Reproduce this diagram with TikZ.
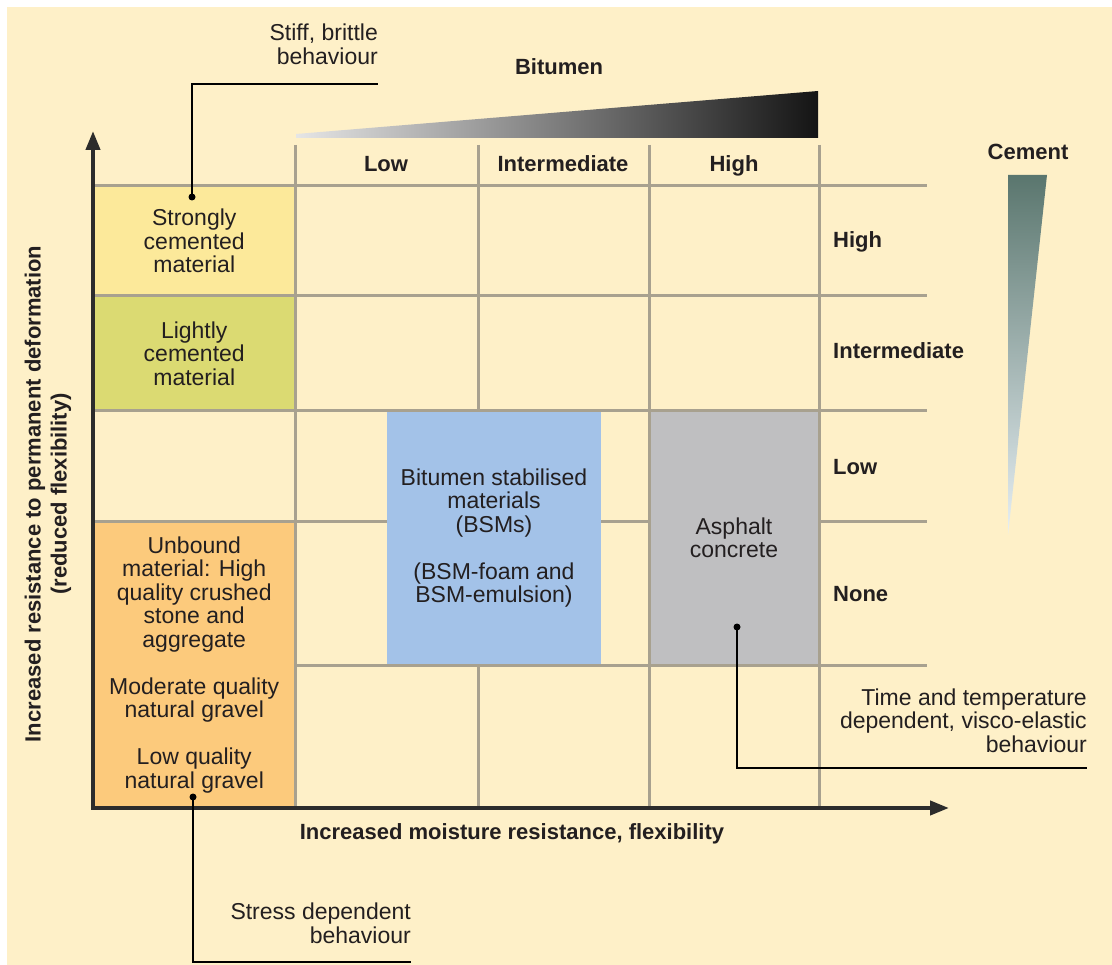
\documentclass[tikz,border=0pt]{standalone}
\usepackage{fontspec}
\setmainfont{Liberation Sans}
\usetikzlibrary{arrows.meta}

\definecolor{bgbeige}{HTML}{FEF0C8}
\definecolor{gridtaupe}{HTML}{A8A18F}
\definecolor{strongyellow}{HTML}{FCE99A}
\definecolor{lightgreen}{HTML}{DBDA72}
\definecolor{unboundorange}{HTML}{FCCA7C}
\definecolor{bsmblue}{HTML}{A3C2E8}
\definecolor{asphaltgrey}{HTML}{BFBFC1}
\definecolor{axisdark}{HTML}{2C2C2C}
\definecolor{inkdark}{HTML}{231F20}
\definecolor{cementtop}{HTML}{5A766E}
\definecolor{cementmid}{HTML}{9CAEAF}
\definecolor{cementend}{HTML}{E8F0F4}

\begin{document}
\begin{tikzpicture}[x=1pt, y=-1pt, line join=miter,
  every node/.style={text=inkdark, inner sep=0pt},
  body/.style={font=\fontsize{23}{23.5}\selectfont, align=center},
  head/.style={font=\fontsize{22}{26}\selectfont\bfseries, text height=15.75pt, text depth=0pt},
  ylabel/.style={font=\fontsize{22}{26}\selectfont\bfseries, align=center, rotate=90},
  region/.style={body, draw=none},
  gridline/.style={draw=gridtaupe, line width=3pt},
  axisline/.style={draw=axisdark, line width=4pt, {Triangle[length=19pt,width=14pt]}-{Triangle[length=19pt,width=14pt]}},
  callout/.style={draw=black, line width=1.4pt},
  calloutdot/.style={circle, fill=black, minimum size=7pt}]

\useasboundingbox (0,0) rectangle (1112,965);
\fill[white] (0,0) rectangle (1112,965);
\fill[bgbeige] (7,7) rectangle (1112,965);

%grid
\foreach \gy in {186,296,411,522}
  \draw[gridline] (95,\gy) -- (927,\gy);
\draw[gridline] (295,665) -- (927,665);
\foreach \gx in {295,478,649,819}
  \draw[gridline] (\gx,145) -- (\gx,808);

%regions
\node[region, fill=strongyellow, minimum width=198.5pt, minimum height=107pt] (strong) at (194.25,241)
  {Strongly\\cemented\\material};
\node[region, fill=lightgreen, minimum width=198.5pt, minimum height=112pt] (light) at (194.25,353.5)
  {Lightly\\cemented\\material};
\node[region, fill=unboundorange, minimum width=198.5pt, minimum height=282.5pt] (unbound) at (194.25,664.75)
  {Unbound\\material: High\\quality crushed\\stone and\\aggregate\\[23.5pt]Moderate quality\\natural gravel\\[23.5pt]Low quality\\natural gravel};
\node[region, fill=bsmblue, minimum width=214pt, minimum height=251pt] (bsm) at (494,538)
  {Bitumen stabilised\\materials\\(BSMs)\\[23.5pt](BSM-foam and\\BSM-emulsion)};
\node[region, fill=asphaltgrey, minimum width=167pt, minimum height=251pt] (asphalt) at (734,538)
  {Asphalt\\concrete};

%wedges
\shade[left color=black!10, middle color=black!45, right color=black!92]
  (296,138) -- (296,134) -- (818,91) -- (818,138) -- cycle;
\shade[top color=cementtop, middle color=cementmid, bottom color=cementend]
  (1008,175) -- (1047,175) -- (1008,535) -- cycle;

%axes
\coordinate (origin) at (93,808);
\coordinate (ytip) at (93,131);
\coordinate (xtip) at (949,808);
\draw[axisline] (ytip) -- (origin) -- (xtip);

%labels
\node[head] (bitumen) at (559,67) {Bitumen};
\node[head] (cement) at (1028,152) {Cement};
\node[head] (colLow) at (386,164) {Low};
\node[head] (colInt) at (563,164) {Intermediate};
\node[head] (colHigh) at (734,164) {High};
\node[head, anchor=west] (rowHigh) at (833,240) {High};
\node[head, anchor=west] (rowInt) at (833,351) {Intermediate};
\node[head, anchor=west] (rowLow) at (833,467) {Low};
\node[head, anchor=west] (rowNone) at (833,594) {None};
\node[head] (xlabel) at (512,832) {Increased moisture resistance, flexibility};
\node[ylabel] (ylabel) at (48,494) {Increased resistance to permanent deformation\\(reduced flexibility)};

%callouts
\node[body, align=right, anchor=east] (stiff) at (378,44.5) {Stiff, brittle\\behaviour};
\node[body, align=right, anchor=east] (stress) at (411,923.5) {Stress dependent\\behaviour};
\node[body, align=right, anchor=east] (visco) at (1087,720.5) {Time and temperature\\dependent, visco-elastic\\behaviour};

\node[calloutdot] (stiffdot) at (192,197) {};
\node[calloutdot] (stressdot) at (193,797) {};
\node[calloutdot] (viscodot) at (737,627) {};
\coordinate (stiffend) at (378,84);
\coordinate (stressend) at (411,962);
\coordinate (viscoend) at (1087,768);

%links
\draw[callout] (stiffdot.center) |- (stiffend);
\draw[callout] (stressdot.center) |- (stressend);
\draw[callout] (viscodot.center) |- (viscoend);
\end{tikzpicture}
\end{document}
